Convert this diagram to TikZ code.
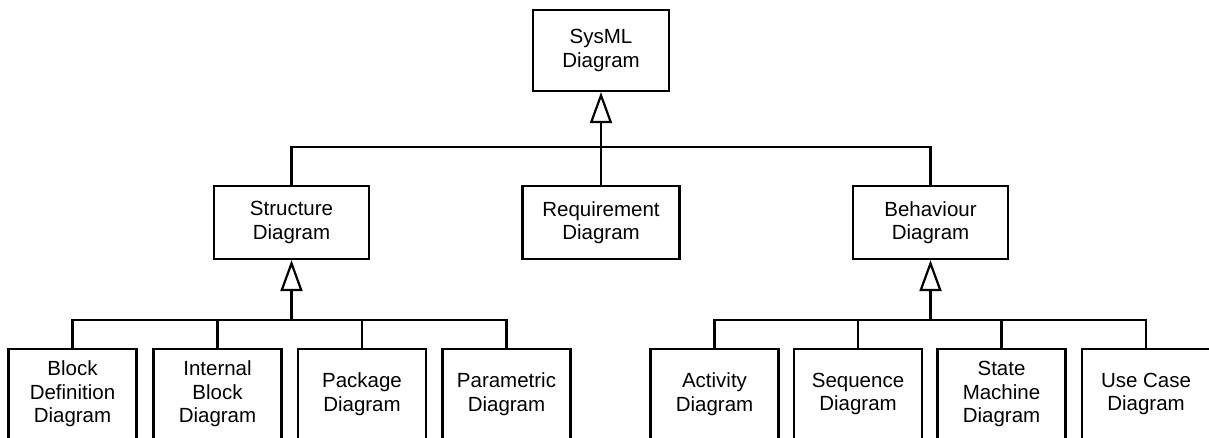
\documentclass[tikz,border=0pt]{standalone}
\usepackage{fontspec}
\setmainfont{Liberation Sans}
\usetikzlibrary{arrows.meta}

\tikzset{
  diag/.style={draw, line width=2.2pt, inner sep=0pt, align=center,
    font=\fontsize{20.5}{23.5}\selectfont},
  topbox/.style={diag, minimum width=136pt, minimum height=81pt},
  midbox/.style={diag, minimum width=155pt, minimum height=73pt},
  leafbox/.style={diag, minimum width=128pt, minimum height=90pt},
  link/.style={line width=2.2pt},
  gen/.style={link, -{Triangle[open, length=31pt, width=22pt]}}
}

\begin{document}
\begin{tikzpicture}[x=1pt, y=-1pt]
  \clip (0,0) rectangle (1209,437);

  % root
  \node[topbox] (sysml) at (601,50.5) {SysML\\Diagram};

  % second level
  \node[midbox] (struct) at (291.5,222.5) {Structure\\Diagram};
  \node[midbox, minimum width=157pt] (req) at (601,222.5) {Requirement\\Diagram};
  \node[midbox] (behav) at (930.5,222.5) {Behaviour\\Diagram};

  % structure diagrams
  \node[leafbox] (bdd) at (72.5,394) {Block\\Definition\\Diagram};
  \node[leafbox] (ibd) at (217.5,394) {Internal\\Block\\Diagram};
  \node[leafbox] (pkg) at (362,394) {Package\\Diagram};
  \node[leafbox] (par) at (506.5,394) {Parametric\\Diagram};

  % behaviour diagrams
  \node[leafbox] (act) at (714.5,394) {Activity\\Diagram};
  \node[leafbox] (seq) at (858,394) {Sequence\\Diagram};
  \node[leafbox] (stm) at (1001.5,394) {State\\Machine\\Diagram};
  \node[leafbox] (uc) at (1146,394) {Use Case\\Diagram};

  % junction points of the generalisation trees
  \coordinate (topbus) at (601,147);
  \path (struct.south) ++(0,60) coordinate (sbus);
  \path (behav.south) ++(0,60) coordinate (bbus);

  % root generalisation
  \draw[link] (struct.north) |- (topbus) -| (behav.north);
  \draw[link] (topbus) -- (req.north);
  \draw[gen] (topbus) -- (sysml.south);

  % structure generalisation
  \draw[link] (bdd.north) |- (sbus) -| (par.north);
  \draw[link] (sbus) -| (ibd.north);
  \draw[link] (sbus) -| (pkg.north);
  \draw[gen] (sbus) -- (struct.south);

  % behaviour generalisation
  \draw[link] (act.north) |- (bbus) -| (uc.north);
  \draw[link] (bbus) -| (seq.north);
  \draw[link] (bbus) -| (stm.north);
  \draw[gen] (bbus) -- (behav.south);
\end{tikzpicture}
\end{document}
